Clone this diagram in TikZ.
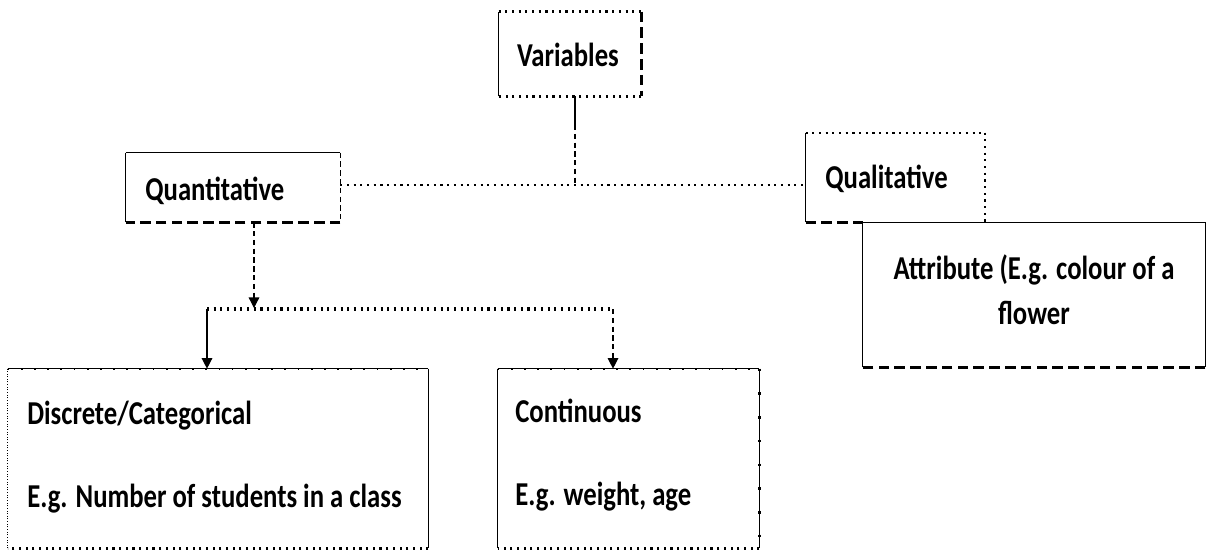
\documentclass[tikz,border=0pt]{standalone}
\usepackage{fontspec}
\setmainfont{Carlito}[FakeStretch=0.8,BoldFont={Carlito Bold},BoldFeatures={FakeStretch=0.8}]
\usetikzlibrary{arrows.meta}
\begin{document}
\begin{tikzpicture}[x=0.02cm,y=-0.02cm,
  box/.style={inner sep=0pt,draw=none},
  txt/.style={inner sep=0pt,font=\fontsize{19}{22}\selectfont\bfseries},
  solidS/.style={line width=0.8pt},
  thinS/.style={line width=0.5pt},
  dotS/.style={line width=1.6pt,dash pattern=on 1.2pt off 2.6pt},
  smalldot/.style={line width=1.2pt,dash pattern=on 1pt off 6.5pt},
  dashS/.style={line width=1.4pt,dash pattern=on 6pt off 3pt},
  thindash/.style={line width=0.7pt,dash pattern=on 3pt off 2pt},
  arr/.style={-{Triangle[length=6pt,width=6pt]}}
]
\useasboundingbox (0,0) rectangle (1206,552);
% boxes
\node[box,minimum width=2.84cm,minimum height=1.68cm] (var) at (570,54) {};
\node[box,minimum width=4.28cm,minimum height=1.38cm] (quant) at (233,187.5) {};
\node[box,minimum width=3.58cm,minimum height=1.78cm] (qual) at (895.5,177.5) {};
\node[box,minimum width=6.84cm,minimum height=2.88cm] (attr) at (1034,295) {};
\node[box,minimum width=8.40cm,minimum height=3.58cm] (disc) at (218,458.5) {};
\node[box,minimum width=5.22cm,minimum height=3.58cm] (cont) at (628.5,458.5) {};
% texts
\node[txt] (tvar) at (568,55) {Variables};
\node[txt,anchor=west] (tquant) at (145,191) {Quantitative};
\node[txt,anchor=west] (tqual) at (825,179) {Qualitative};
\node[txt,align=center,font=\fontsize{19}{25.6}\selectfont\bfseries] (tattr) at (1034,290) {Attribute (E.g. colour of a\\flower};
\node[txt,anchor=west] (tdisc1) at (27,416) {Discrete/Categorical};
\node[txt,anchor=west] (tdisc2) at (27,499) {E.g. Number of students in a class};
\node[txt,anchor=west] (tcont1) at (515,411) {Continuous};
\node[txt,anchor=west] (tcont2) at (515,497) {E.g. weight, age};
% Variables box sides
\draw[dotS] (var.north west) -- (var.north east);
\draw[dashS] (var.north east) -- (var.south east);
\draw[dotS,line width=2pt] (var.south east) -- (var.south west);
\draw[solidS] (var.south west) -- (var.north west);
% Quantitative
\draw[solidS] (quant.north west) -- (quant.north east);
\draw[thindash] (quant.north east) -- (quant.south east);
\draw[dashS] (quant.south east) -- (quant.south west);
\draw[solidS] (quant.south west) -- (quant.north west);
% Qualitative
\draw[dotS,line width=1.2pt] (qual.north west) -- (qual.north east);
\draw[dotS,line width=1.2pt] (qual.north east) -- (qual.south east);
\draw[dashS] (qual.south west) -- (attr.north west |- qual.south);
\draw[solidS] (qual.south west) -- (qual.north west);
% Attribute
\draw[solidS] (attr.north west) -- (attr.north east) -- (attr.south east);
\draw[dashS] (attr.south east) -- (attr.south west);
\draw[solidS] (attr.south west) -- (attr.north west);
% Discrete
\draw[smalldot] (disc.north west) -- (disc.north east);
\draw[thinS] (disc.north west) -- (disc.north east);
\draw[thinS] (disc.north east) -- (disc.south east);
\draw[dotS,line width=1.4pt] (disc.south east) -- (disc.south west);
\draw[thinS,densely dotted] (disc.south west) -- (disc.north west);
% Continuous
\draw[smalldot] (cont.north west) -- (cont.north east);
\draw[thinS] (cont.north west) -- (cont.north east);
\draw[line width=1.4pt,dash pattern=on 1.5pt off 12pt] (cont.north east) -- (cont.south east);
\draw[thinS] (cont.north east) -- (cont.south east);
\draw[dotS,line width=1.4pt] (cont.south east) -- (cont.south west);
\draw[thinS] (cont.south west) -- (cont.north west);
% connectors
\coordinate (j1) at (575,185);
\coordinate (j2) at (254,308);
\coordinate (jl) at (207,309);
\coordinate (jr) at (613,309);
\coordinate (jv) at (575,125);
\draw[solidS] (var.south -| j1) -- (jv);
\draw[thindash] (jv) -- (j1);
\draw[dotS,line width=1.6pt] (quant.east |- j1) -- (qual.west |- j1);
\draw[thindash,arr] (quant.south -| j2) -- (j2);
\draw[dotS,line width=2.2pt] (jl) -- (jr);
\draw[solidS,arr] (jl) -- (disc.north -| jl);
\draw[thindash,arr] (jr) -- (cont.north -| jr);
\end{tikzpicture}
\end{document}
